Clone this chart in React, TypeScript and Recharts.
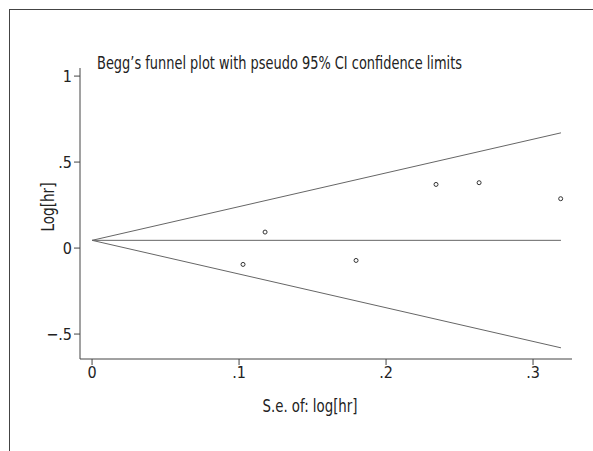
import React from 'react';
import { ComposedChart, Line, Scatter, XAxis, YAxis } from 'recharts';

// study estimates
const seValues = [0.1027, 0.1177, 0.1796, 0.234, 0.2633, 0.3188];
const logHrValues = [-0.095, 0.093, -0.072, 0.37, 0.38, 0.287];

// pooled estimate and pseudo 95% limits at the widest s.e.
const pooledLogHr = 0.045;
const maxSe = 0.319;
const upperLimitEnd = 0.67;
const lowerLimitEnd = -0.58;

const xTicks = [0, 0.1, 0.2, 0.3];
const yTicks = [-0.5, 0, 0.5, 1];

const studies = seValues.map((se, i) => ({ x: se, y: logHrValues[i] }));
const pooledLine = [
  { x: 0, y: pooledLogHr },
  { x: maxSe, y: pooledLogHr },
];
const upperLine = [
  { x: 0, y: pooledLogHr },
  { x: maxSe, y: upperLimitEnd },
];
const lowerLine = [
  { x: 0, y: pooledLogHr },
  { x: maxSe, y: lowerLimitEnd },
];

const FONT = '"Liberation Sans Narrow", "DejaVu Sans Condensed", "Roboto", sans-serif';
const AXIS = '#444';
const LINE = '#666';

const fmt = (v: number) => {
  if (v === 0) return '0';
  const s = String(Math.abs(v)).replace(/^0/, '');
  return (v < 0 ? '\u2212' : '') + s;
};

const Hollow = (props: any) => (
  <circle cx={props.cx} cy={props.cy} r={2} fill="#fff" stroke="#333" strokeWidth={1} />
);

export default function App() {
  return (
    <div style={{ position: 'absolute', left: 0, top: 0, width: 593, height: 451, background: '#fff' }}>
      <div
        style={{
          position: 'absolute',
          left: 9,
          top: 9,
          right: 0,
          bottom: 0,
          borderTop: `1.5px solid ${AXIS}`,
          borderLeft: `1.5px solid ${AXIS}`,
        }}
      />
      <ComposedChart
        width={593}
        height={451}
        margin={{ top: 68, right: 21, bottom: 62, left: 0 }}
        style={{ position: 'absolute', left: 0, top: 0 }}
      >
        <XAxis
          type="number"
          dataKey="x"
          domain={[-0.0082, 0.3265]}
          ticks={xTicks}
          tickFormatter={fmt}
          allowDataOverflow
          height={30}
          stroke={AXIS}
          tickSize={6}
          tick={{ fill: '#222', fontSize: 16, fontFamily: FONT }}
        />
        <YAxis
          type="number"
          dataKey="y"
          domain={[-0.645, 1.047]}
          ticks={yTicks}
          tickFormatter={fmt}
          allowDataOverflow
          width={80}
          stroke={AXIS}
          tickSize={6}
          tick={{ fill: '#222', fontSize: 16, fontFamily: FONT }}
        />
        <Line data={upperLine} dataKey="y" stroke={LINE} strokeWidth={1} dot={false} isAnimationActive={false} />
        <Line data={pooledLine} dataKey="y" stroke={LINE} strokeWidth={1} dot={false} isAnimationActive={false} />
        <Line data={lowerLine} dataKey="y" stroke={LINE} strokeWidth={1} dot={false} isAnimationActive={false} />
        <Scatter data={studies} dataKey="y" shape={Hollow} isAnimationActive={false} />
        <text x={97} y={69} fontSize={18} fontFamily={FONT} fill="#222" textLength={365} lengthAdjust="spacingAndGlyphs">
          Begg’s funnel plot with pseudo 95% CI confidence limits
        </text>
        <text
          x={48}
          y={207}
          fontSize={17}
          fontFamily={FONT}
          fill="#222"
          textAnchor="middle"
          dominantBaseline="central"
          transform="rotate(-90 48 207)"
          textLength={49}
          lengthAdjust="spacingAndGlyphs"
        >
          Log[hr]
        </text>
        <text
          x={310}
          y={406}
          fontSize={17}
          fontFamily={FONT}
          fill="#222"
          textAnchor="middle"
          dominantBaseline="central"
          textLength={95}
          lengthAdjust="spacingAndGlyphs"
        >
          S.e. of: log[hr]
        </text>
      </ComposedChart>
    </div>
  );
}
